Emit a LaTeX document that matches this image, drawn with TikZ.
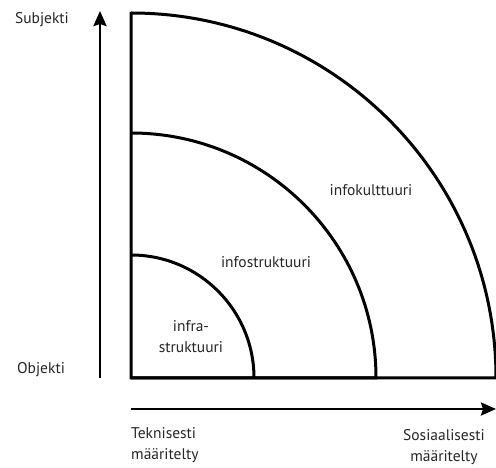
\documentclass[tikz,border=0pt]{standalone}
\usepackage{fontspec}
\setmainfont{PT Sans}
\usetikzlibrary{arrows.meta}
\begin{document}
\begin{tikzpicture}[x=1pt,y=1pt,
  zone/.style={line width=3pt, line join=miter},
  axis/.style={line width=2.6pt, -{Stealth[length=15pt,width=13pt,inset=2pt]}},
  lbl/.style={font=\fontsize{15.5}{21}\selectfont, text=black!85, inner sep=0pt, align=center}]
\useasboundingbox (0,0) rectangle (496,468);
\coordinate (O) at (131,90);
\draw[zone] (131,456) -- (O) -- (496,90) arc[start angle=0,end angle=90,radius=365];
\draw[zone] (131,335) arc[start angle=90,end angle=0,radius=245] -- (O);
\draw[zone] (131,213) arc[start angle=90,end angle=0,radius=123];
\coordinate (ya) at (100,90);
\coordinate (yb) at (100,457);
\coordinate (xa) at (131,59);
\coordinate (xb) at (496,59);
\draw[axis] (ya) -- (yb);
\draw[axis] (xa) -- (xb);
\node[lbl] (subj) at (42,448) {Subjekti};
\node[lbl] (obj) at (41,98) {Objekti};
\node[lbl, align=left, anchor=north west] (tek) at (131,41) {Teknisesti\\määritelty};
\node[lbl] (sos) at (444,21) {Sosiaalisesti\\määritelty};
\node[lbl] (infra) at (191,131) {infra-\\struktuuri};
\node[lbl] (infos) at (266,206) {infostruktuuri};
\node[lbl] (infok) at (371,278) {infokulttuuri};
\end{tikzpicture}
\end{document}
